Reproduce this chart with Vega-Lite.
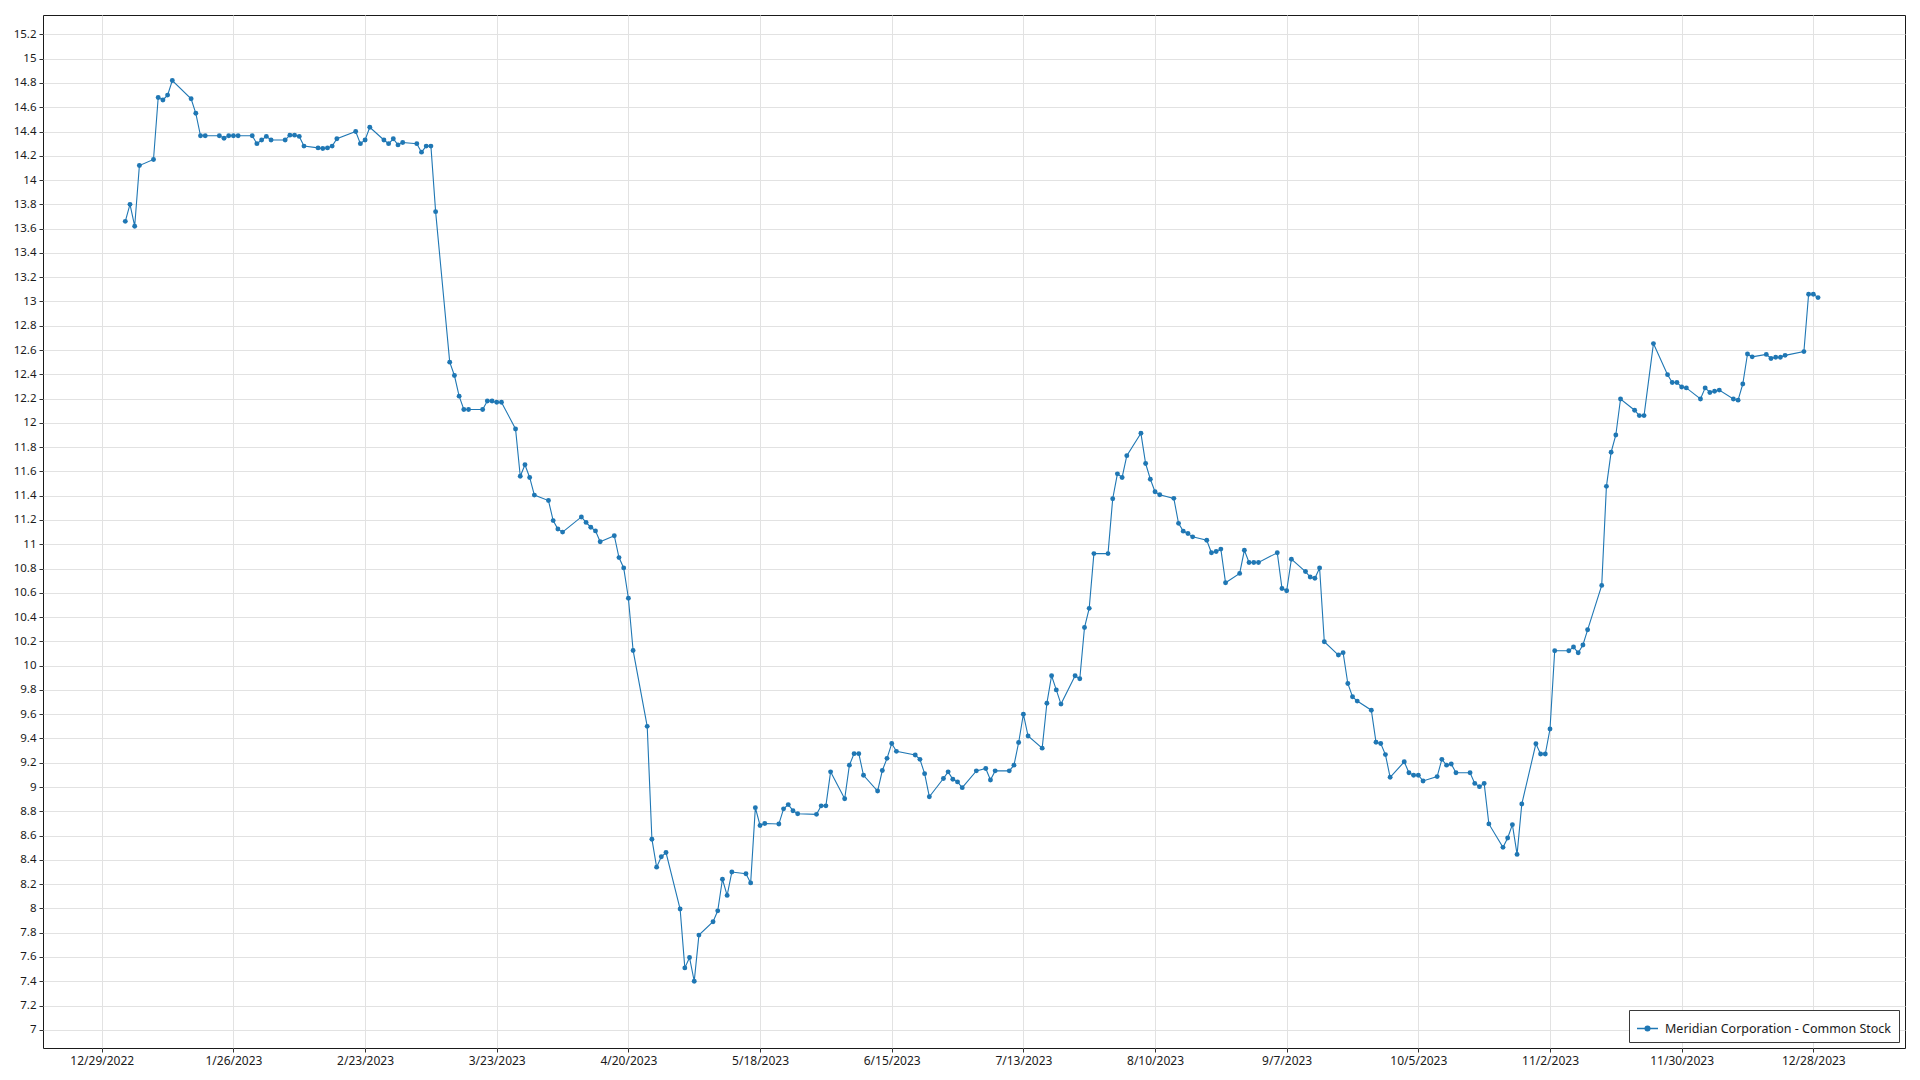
{
  "$schema": "https://vega.github.io/schema/vega-lite/v6.json",
  "width": 1862,
  "height": 1033,
  "autosize": {"type": "none"},
  "padding": {"left": 43, "top": 15, "right": 15, "bottom": 32},
  "background": "white",
  "config": {
    "font": "Noto Sans",
    "view": {"stroke": "#1a1a1a", "strokeWidth": 1},
    "axis": {
      "gridColor": "#e2e2e2",
      "gridWidth": 1,
      "domain": false,
      "tickColor": "#333333",
      "tickSize": 4,
      "labelColor": "#1a1a1a",
      "labelFontSize": 11.5,
      "labelFont": "Noto Sans",
      "labelPadding": 3,
      "title": null
    }
  },
  "data": {
    "values": [
      {"date": "2023-01-03", "price": 13.66},
      {"date": "2023-01-04", "price": 13.80},
      {"date": "2023-01-05", "price": 13.62},
      {"date": "2023-01-06", "price": 14.12},
      {"date": "2023-01-09", "price": 14.17},
      {"date": "2023-01-10", "price": 14.68},
      {"date": "2023-01-11", "price": 14.66},
      {"date": "2023-01-12", "price": 14.70},
      {"date": "2023-01-13", "price": 14.82},
      {"date": "2023-01-17", "price": 14.67},
      {"date": "2023-01-18", "price": 14.55},
      {"date": "2023-01-19", "price": 14.365},
      {"date": "2023-01-20", "price": 14.365},
      {"date": "2023-01-23", "price": 14.365},
      {"date": "2023-01-24", "price": 14.345},
      {"date": "2023-01-25", "price": 14.365},
      {"date": "2023-01-26", "price": 14.365},
      {"date": "2023-01-27", "price": 14.365},
      {"date": "2023-01-30", "price": 14.365},
      {"date": "2023-01-31", "price": 14.30},
      {"date": "2023-02-01", "price": 14.33},
      {"date": "2023-02-02", "price": 14.36},
      {"date": "2023-02-03", "price": 14.33},
      {"date": "2023-02-06", "price": 14.33},
      {"date": "2023-02-07", "price": 14.37},
      {"date": "2023-02-08", "price": 14.37},
      {"date": "2023-02-09", "price": 14.36},
      {"date": "2023-02-10", "price": 14.28},
      {"date": "2023-02-13", "price": 14.265},
      {"date": "2023-02-14", "price": 14.26},
      {"date": "2023-02-15", "price": 14.265},
      {"date": "2023-02-16", "price": 14.28},
      {"date": "2023-02-17", "price": 14.34},
      {"date": "2023-02-21", "price": 14.40},
      {"date": "2023-02-22", "price": 14.30},
      {"date": "2023-02-23", "price": 14.33},
      {"date": "2023-02-24", "price": 14.435},
      {"date": "2023-02-27", "price": 14.33},
      {"date": "2023-02-28", "price": 14.30},
      {"date": "2023-03-01", "price": 14.34},
      {"date": "2023-03-02", "price": 14.29},
      {"date": "2023-03-03", "price": 14.31},
      {"date": "2023-03-06", "price": 14.30},
      {"date": "2023-03-07", "price": 14.23},
      {"date": "2023-03-08", "price": 14.28},
      {"date": "2023-03-09", "price": 14.28},
      {"date": "2023-03-10", "price": 13.74},
      {"date": "2023-03-13", "price": 12.50},
      {"date": "2023-03-14", "price": 12.39},
      {"date": "2023-03-15", "price": 12.22},
      {"date": "2023-03-16", "price": 12.11},
      {"date": "2023-03-17", "price": 12.11},
      {"date": "2023-03-20", "price": 12.11},
      {"date": "2023-03-21", "price": 12.18},
      {"date": "2023-03-22", "price": 12.18},
      {"date": "2023-03-23", "price": 12.17},
      {"date": "2023-03-24", "price": 12.17},
      {"date": "2023-03-27", "price": 11.95},
      {"date": "2023-03-28", "price": 11.56},
      {"date": "2023-03-29", "price": 11.655},
      {"date": "2023-03-30", "price": 11.55},
      {"date": "2023-03-31", "price": 11.405},
      {"date": "2023-04-03", "price": 11.36},
      {"date": "2023-04-04", "price": 11.195},
      {"date": "2023-04-05", "price": 11.125},
      {"date": "2023-04-06", "price": 11.10},
      {"date": "2023-04-10", "price": 11.225},
      {"date": "2023-04-11", "price": 11.18},
      {"date": "2023-04-12", "price": 11.14},
      {"date": "2023-04-13", "price": 11.11},
      {"date": "2023-04-14", "price": 11.02},
      {"date": "2023-04-17", "price": 11.07},
      {"date": "2023-04-18", "price": 10.89},
      {"date": "2023-04-19", "price": 10.805},
      {"date": "2023-04-20", "price": 10.555},
      {"date": "2023-04-21", "price": 10.125},
      {"date": "2023-04-24", "price": 9.50},
      {"date": "2023-04-25", "price": 8.57},
      {"date": "2023-04-26", "price": 8.34},
      {"date": "2023-04-27", "price": 8.425},
      {"date": "2023-04-28", "price": 8.46},
      {"date": "2023-05-01", "price": 7.995},
      {"date": "2023-05-02", "price": 7.51},
      {"date": "2023-05-03", "price": 7.595},
      {"date": "2023-05-04", "price": 7.40},
      {"date": "2023-05-05", "price": 7.78},
      {"date": "2023-05-08", "price": 7.89},
      {"date": "2023-05-09", "price": 7.98},
      {"date": "2023-05-10", "price": 8.24},
      {"date": "2023-05-11", "price": 8.107},
      {"date": "2023-05-12", "price": 8.30},
      {"date": "2023-05-15", "price": 8.285},
      {"date": "2023-05-16", "price": 8.21},
      {"date": "2023-05-17", "price": 8.83},
      {"date": "2023-05-18", "price": 8.683},
      {"date": "2023-05-19", "price": 8.70},
      {"date": "2023-05-22", "price": 8.695},
      {"date": "2023-05-23", "price": 8.82},
      {"date": "2023-05-24", "price": 8.855},
      {"date": "2023-05-25", "price": 8.805},
      {"date": "2023-05-26", "price": 8.78},
      {"date": "2023-05-30", "price": 8.775},
      {"date": "2023-05-31", "price": 8.845},
      {"date": "2023-06-01", "price": 8.845},
      {"date": "2023-06-02", "price": 9.125},
      {"date": "2023-06-05", "price": 8.903},
      {"date": "2023-06-06", "price": 9.18},
      {"date": "2023-06-07", "price": 9.275},
      {"date": "2023-06-08", "price": 9.275},
      {"date": "2023-06-09", "price": 9.097},
      {"date": "2023-06-12", "price": 8.967},
      {"date": "2023-06-13", "price": 9.136},
      {"date": "2023-06-14", "price": 9.236},
      {"date": "2023-06-15", "price": 9.358},
      {"date": "2023-06-16", "price": 9.294},
      {"date": "2023-06-20", "price": 9.264},
      {"date": "2023-06-21", "price": 9.228},
      {"date": "2023-06-22", "price": 9.11},
      {"date": "2023-06-23", "price": 8.92},
      {"date": "2023-06-26", "price": 9.07},
      {"date": "2023-06-27", "price": 9.125},
      {"date": "2023-06-28", "price": 9.064},
      {"date": "2023-06-29", "price": 9.042},
      {"date": "2023-06-30", "price": 8.995},
      {"date": "2023-07-03", "price": 9.133},
      {"date": "2023-07-05", "price": 9.153},
      {"date": "2023-07-06", "price": 9.058},
      {"date": "2023-07-07", "price": 9.133},
      {"date": "2023-07-10", "price": 9.133},
      {"date": "2023-07-11", "price": 9.18},
      {"date": "2023-07-12", "price": 9.367},
      {"date": "2023-07-13", "price": 9.60},
      {"date": "2023-07-14", "price": 9.42},
      {"date": "2023-07-17", "price": 9.32},
      {"date": "2023-07-18", "price": 9.69},
      {"date": "2023-07-19", "price": 9.917},
      {"date": "2023-07-20", "price": 9.80},
      {"date": "2023-07-21", "price": 9.683},
      {"date": "2023-07-24", "price": 9.917},
      {"date": "2023-07-25", "price": 9.892},
      {"date": "2023-07-26", "price": 10.314},
      {"date": "2023-07-27", "price": 10.472},
      {"date": "2023-07-28", "price": 10.923},
      {"date": "2023-07-31", "price": 10.923},
      {"date": "2023-08-01", "price": 11.375},
      {"date": "2023-08-02", "price": 11.58},
      {"date": "2023-08-03", "price": 11.55},
      {"date": "2023-08-04", "price": 11.73},
      {"date": "2023-08-07", "price": 11.914},
      {"date": "2023-08-08", "price": 11.665},
      {"date": "2023-08-09", "price": 11.536},
      {"date": "2023-08-10", "price": 11.432},
      {"date": "2023-08-11", "price": 11.408},
      {"date": "2023-08-14", "price": 11.378},
      {"date": "2023-08-15", "price": 11.172},
      {"date": "2023-08-16", "price": 11.108},
      {"date": "2023-08-17", "price": 11.089},
      {"date": "2023-08-18", "price": 11.061},
      {"date": "2023-08-21", "price": 11.033},
      {"date": "2023-08-22", "price": 10.93},
      {"date": "2023-08-23", "price": 10.94},
      {"date": "2023-08-24", "price": 10.96},
      {"date": "2023-08-25", "price": 10.683},
      {"date": "2023-08-28", "price": 10.76},
      {"date": "2023-08-29", "price": 10.95},
      {"date": "2023-08-30", "price": 10.85},
      {"date": "2023-08-31", "price": 10.85},
      {"date": "2023-09-01", "price": 10.85},
      {"date": "2023-09-05", "price": 10.93},
      {"date": "2023-09-06", "price": 10.636},
      {"date": "2023-09-07", "price": 10.617},
      {"date": "2023-09-08", "price": 10.877},
      {"date": "2023-09-11", "price": 10.775},
      {"date": "2023-09-12", "price": 10.73},
      {"date": "2023-09-13", "price": 10.72},
      {"date": "2023-09-14", "price": 10.805},
      {"date": "2023-09-15", "price": 10.197},
      {"date": "2023-09-18", "price": 10.087},
      {"date": "2023-09-19", "price": 10.107},
      {"date": "2023-09-20", "price": 9.853},
      {"date": "2023-09-21", "price": 9.744},
      {"date": "2023-09-22", "price": 9.708},
      {"date": "2023-09-25", "price": 9.633},
      {"date": "2023-09-26", "price": 9.369},
      {"date": "2023-09-27", "price": 9.358},
      {"date": "2023-09-28", "price": 9.267},
      {"date": "2023-09-29", "price": 9.08},
      {"date": "2023-10-02", "price": 9.208},
      {"date": "2023-10-03", "price": 9.117},
      {"date": "2023-10-04", "price": 9.097},
      {"date": "2023-10-05", "price": 9.097},
      {"date": "2023-10-06", "price": 9.05},
      {"date": "2023-10-09", "price": 9.086},
      {"date": "2023-10-10", "price": 9.228},
      {"date": "2023-10-11", "price": 9.18},
      {"date": "2023-10-12", "price": 9.19},
      {"date": "2023-10-13", "price": 9.117},
      {"date": "2023-10-16", "price": 9.117},
      {"date": "2023-10-17", "price": 9.03},
      {"date": "2023-10-18", "price": 9.003},
      {"date": "2023-10-19", "price": 9.03},
      {"date": "2023-10-20", "price": 8.696},
      {"date": "2023-10-23", "price": 8.503},
      {"date": "2023-10-24", "price": 8.58},
      {"date": "2023-10-25", "price": 8.69},
      {"date": "2023-10-26", "price": 8.445},
      {"date": "2023-10-27", "price": 8.86},
      {"date": "2023-10-30", "price": 9.356},
      {"date": "2023-10-31", "price": 9.272},
      {"date": "2023-11-01", "price": 9.272},
      {"date": "2023-11-02", "price": 9.478},
      {"date": "2023-11-03", "price": 10.122},
      {"date": "2023-11-06", "price": 10.122},
      {"date": "2023-11-07", "price": 10.153},
      {"date": "2023-11-08", "price": 10.106},
      {"date": "2023-11-09", "price": 10.17},
      {"date": "2023-11-10", "price": 10.295},
      {"date": "2023-11-13", "price": 10.661},
      {"date": "2023-11-14", "price": 11.477},
      {"date": "2023-11-15", "price": 11.758},
      {"date": "2023-11-16", "price": 11.90},
      {"date": "2023-11-17", "price": 12.197},
      {"date": "2023-11-20", "price": 12.104},
      {"date": "2023-11-21", "price": 12.06},
      {"date": "2023-11-22", "price": 12.06},
      {"date": "2023-11-24", "price": 12.653},
      {"date": "2023-11-27", "price": 12.397},
      {"date": "2023-11-28", "price": 12.333},
      {"date": "2023-11-29", "price": 12.333},
      {"date": "2023-11-30", "price": 12.296},
      {"date": "2023-12-01", "price": 12.288},
      {"date": "2023-12-04", "price": 12.197},
      {"date": "2023-12-05", "price": 12.288},
      {"date": "2023-12-06", "price": 12.25},
      {"date": "2023-12-07", "price": 12.26},
      {"date": "2023-12-08", "price": 12.27},
      {"date": "2023-12-11", "price": 12.197},
      {"date": "2023-12-12", "price": 12.187},
      {"date": "2023-12-13", "price": 12.32},
      {"date": "2023-12-14", "price": 12.567},
      {"date": "2023-12-15", "price": 12.544},
      {"date": "2023-12-18", "price": 12.564},
      {"date": "2023-12-19", "price": 12.53},
      {"date": "2023-12-20", "price": 12.54},
      {"date": "2023-12-21", "price": 12.54},
      {"date": "2023-12-22", "price": 12.556},
      {"date": "2023-12-26", "price": 12.587},
      {"date": "2023-12-27", "price": 13.059},
      {"date": "2023-12-28", "price": 13.059},
      {"date": "2023-12-29", "price": 13.032}
    ]
  },
  "mark": {
    "type": "line",
    "strokeWidth": 1.1,
    "point": {"filled": true, "size": 24, "opacity": 1}
  },
  "encoding": {
    "x": {
      "field": "date",
      "type": "temporal",
      "scale": {
        "type": "utc",
        "domain": [
          {"year": 2022, "month": 12, "date": 16, "hours": 12, "utc": true},
          {"year": 2024, "month": 1, "date": 16, "hours": 12, "utc": true}
        ],
        "nice": false
      },
      "axis": {
        "labelExpr": "utcFormat(datum.value, '%-m/%-d/%Y')",
        "labelFontSize": 12,
        "values": [
          {"year": 2022, "month": 12, "date": 29, "utc": true},
          {"year": 2023, "month": 1, "date": 26, "utc": true},
          {"year": 2023, "month": 2, "date": 23, "utc": true},
          {"year": 2023, "month": 3, "date": 23, "utc": true},
          {"year": 2023, "month": 4, "date": 20, "utc": true},
          {"year": 2023, "month": 5, "date": 18, "utc": true},
          {"year": 2023, "month": 6, "date": 15, "utc": true},
          {"year": 2023, "month": 7, "date": 13, "utc": true},
          {"year": 2023, "month": 8, "date": 10, "utc": true},
          {"year": 2023, "month": 9, "date": 7, "utc": true},
          {"year": 2023, "month": 10, "date": 5, "utc": true},
          {"year": 2023, "month": 11, "date": 2, "utc": true},
          {"year": 2023, "month": 11, "date": 30, "utc": true},
          {"year": 2023, "month": 12, "date": 28, "utc": true}
        ]
      }
    },
    "y": {
      "field": "price",
      "type": "quantitative",
      "scale": {"domain": [6.85, 15.36], "nice": false, "zero": false},
      "axis": {
        "format": ".1~f",
        "values": [7, 7.2, 7.4, 7.6, 7.8, 8, 8.2, 8.4, 8.6, 8.8, 9, 9.2, 9.4, 9.6, 9.8, 10, 10.2, 10.4, 10.6, 10.8, 11, 11.2, 11.4, 11.6, 11.8, 12, 12.2, 12.4, 12.6, 12.8, 13, 13.2, 13.4, 13.6, 13.8, 14, 14.2, 14.4, 14.6, 14.8, 15, 15.2]
      }
    },
    "color": {
      "datum": "Meridian Corporation - Common Stock",
      "type": "nominal",
      "scale": {"range": ["#1f77b4"]},
      "legend": {
        "title": null,
        "orient": "bottom-right",
        "offset": 6,
        "fillColor": "white",
        "strokeColor": "#3a3a3a",
        "padding": 7,
        "labelFontSize": 12.5,
        "labelLimit": 500,
        "labelColor": "#1a1a1a",
        "labelFont": "Noto Sans",
        "symbolType": "M-1,0L1,0M0.22,0A0.22,0.22,0,1,1,-0.22,0A0.22,0.22,0,1,1,0.22,0Z",
        "symbolSize": 440,
        "symbolStrokeWidth": 1.5,
        "symbolFillColor": "#1f77b4",
        "symbolStrokeColor": "#1f77b4",
        "labelOffset": 6
      }
    }
  }
}
